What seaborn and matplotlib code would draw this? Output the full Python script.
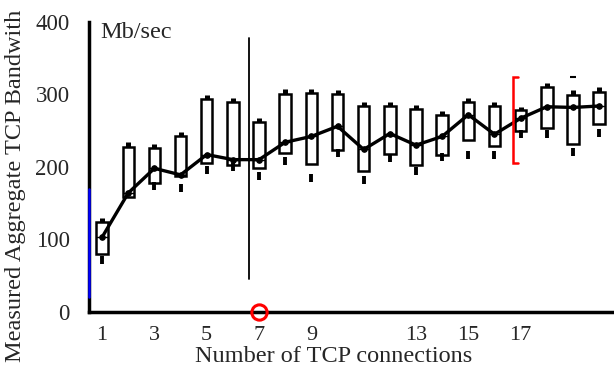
import numpy as np
import pandas as pd
import matplotlib
matplotlib.use("Agg")
import matplotlib.pyplot as plt
import seaborn as sns

# ---- data ----
connections = list(range(1, 21))
box_top    = [124, 228, 226, 242, 293, 289, 262, 300, 302, 300, 284, 284, 280, 272, 289, 284, 279, 310, 299, 304]
box_bottom = [80, 158, 178, 187, 206, 203, 199, 219, 204, 223, 195, 218, 203, 217, 237, 229, 249, 254, 231, 259]
whisker_hi = [129, 234, 231, 248, 299, 295, 268, 307, 308, 306, 290, 289, 285, 277, 295, 289, 283, 316, 306, 310]
low_marks  = [72, None, 173, 171, 196, 200, 187, 208, 185, 219, 182, 212, 194, 213, 217, 216, 245, 245, 221, 247]
median_bw  = [103, 164, 198, 189, 217, 210, 210, 234, 242, 256, 224, 246, 230, 242, 272, 245, 267, 283, 282, 284]
high_outlier_x = [19]
high_outlier_y = [324]
xtick_labels = [1, 3, 5, 7, 9, 13, 15, 17]
yticks = [0, 100, 200, 300, 400]

sns.set_style("white")
plt.rcParams['font.family'] = ['Liberation Serif', 'DejaVu Serif']

fig = plt.figure(figsize=(6.14, 3.78), dpi=100)
ax = fig.add_axes([0.145, 0.175, 0.852, 0.767])

# boxes
stats = []
for i, c in enumerate(connections):
    stats.append(dict(med=median_bw[i], q1=box_bottom[i], q3=box_top[i],
                      whislo=box_bottom[i], whishi=whisker_hi[i],
                      fliers=[low_marks[i]] if low_marks[i] is not None else []))
ax.bxp(stats, positions=connections, widths=0.44, patch_artist=True,
       showcaps=False,
       boxprops=dict(facecolor='white', edgecolor='black', linewidth=1.8),
       whiskerprops=dict(color='black', linewidth=3.6, solid_capstyle='butt'),
       medianprops=dict(color='black', linewidth=1.0),
       flierprops=dict(marker='|', markersize=5.5, markeredgewidth=2.8,
                       markeredgecolor='black'))
ax.plot(high_outlier_x, high_outlier_y, marker='_', ms=5, mew=1.5, color='black', ls='none')

# connecting line of medians
df = pd.DataFrame({"n": connections, "bw": median_bw})
sns.lineplot(data=df, x="n", y="bw", ax=ax, color='black', linewidth=2.4,
             marker='o', markersize=4, markeredgecolor='black', zorder=5)

ax.set_xlim(0.5, 20.5)
ax.set_ylim(0, 400)

# annotations
ax.plot([6.62, 6.62], [45, 378], color='black', lw=1.3)
ax.plot([0.5, 0.5], [21, 169], color='blue', lw=1.8, clip_on=False, zorder=6)
ax.plot([7], [0], marker='o', ms=11, mfc='none', mec='red', mew=2.2, clip_on=False, zorder=7)
ax.plot([16.9, 16.71, 16.71, 16.9], [324, 324, 206, 206], color='red', lw=1.8,
        solid_joinstyle='miter', zorder=6)
ax.text(0.92, 386, "Mb/sec", fontsize=17.5, va='center', ha='left')

# axes styling
for s in ['top', 'right']:
    ax.spines[s].set_visible(False)
for s in ['left', 'bottom']:
    ax.spines[s].set_linewidth(2.5)
    ax.spines[s].set_color('black')

ax.set_xticks(xtick_labels)
ax.set_xticklabels([str(v) for v in xtick_labels], fontsize=16)
ax.set_xticks(np.arange(0.5, 21, 1), minor=True)
ax.tick_params(axis='x', which='major', length=0, pad=10)
ax.tick_params(axis='x', which='minor', length=5, width=2.5, direction='out', color='black')

ax.set_yticks(yticks)
ax.set_yticklabels([str(v) for v in yticks], fontsize=16.5)
ax.set_yticks([50, 150, 250, 350], minor=True)
ax.tick_params(axis='y', which='both', length=8, width=2, direction='out', color='black', pad=6)

ax.set_xlabel("Number of TCP connections", fontsize=17.5)
ax.xaxis.set_label_coords(0.467, -0.155)
ax.set_ylabel("Measured Aggregate TCP Bandwith", fontsize=17.5)
ax.yaxis.set_label_coords(-0.1405, 0.434)
ax.xaxis.label.set_va('center')
ax.yaxis.label.set_va('center')
ax.grid(False)

fig.savefig("out.png", dpi=100)
